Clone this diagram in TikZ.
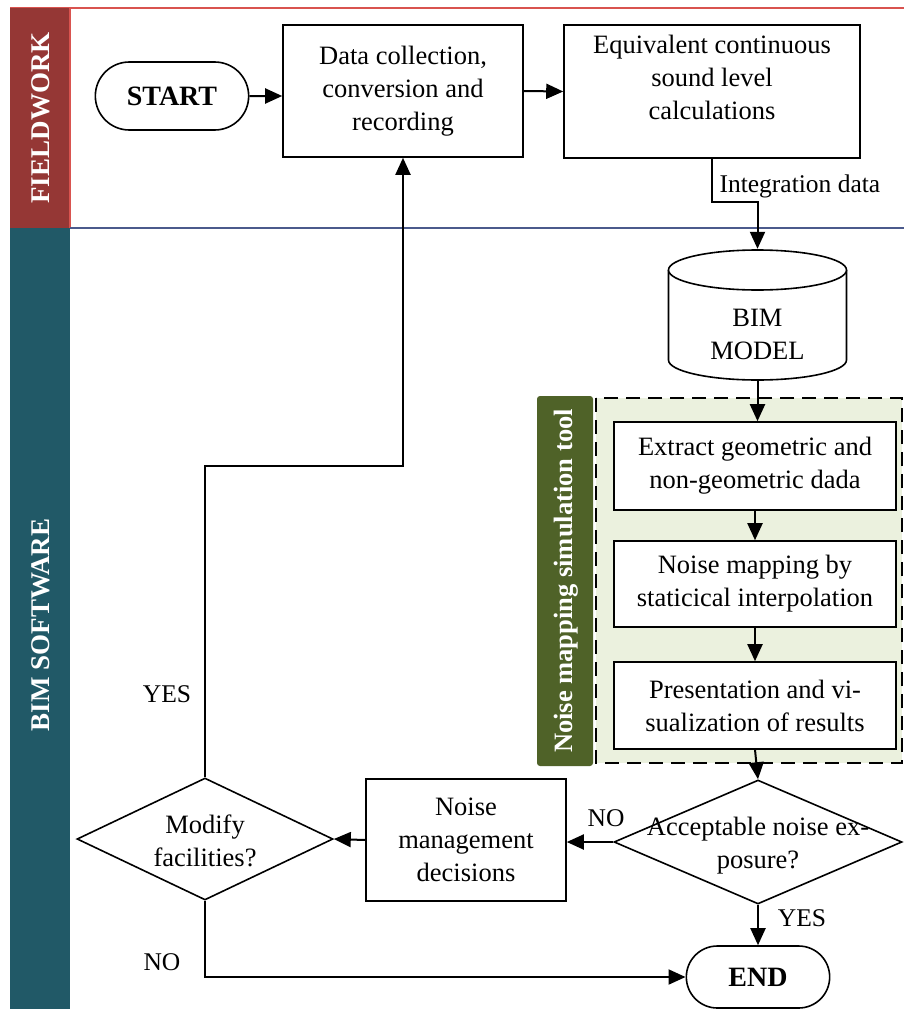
\documentclass[tikz,border=0pt]{standalone}
\usepackage{fontspec}
\setmainfont{Liberation Serif}
\usetikzlibrary{arrows.meta,shapes.geometric,shapes.misc}
\definecolor{fieldred}{HTML}{953735}
\definecolor{fieldline}{HTML}{D9534F}
\definecolor{bimteal}{HTML}{215967}
\definecolor{sepblue}{HTML}{4B5A8C}
\definecolor{toolgreen}{HTML}{4F6228}
\definecolor{toolfill}{HTML}{EBF1DE}
\begin{document}
\begin{tikzpicture}[x=1pt,y=-1pt,
  txt/.style={font=\fontsize{26.5}{33}\selectfont, align=center},
  procbox/.style={draw, line width=1.6pt, fill=white, txt},
  term/.style={draw, line width=1.6pt, rounded rectangle, fill=white, font=\fontsize{28}{30}\selectfont\bfseries},
  dec/.style={draw, line width=1.6pt, diamond, aspect=2, inner sep=0pt},
  conn/.style={line width=2pt, -{Triangle[length=17pt,width=15pt]}},
  lab/.style={font=\fontsize{25.5}{28}\selectfont},
  lanetxt/.style={font=\fontsize{27}{30}\selectfont\bfseries, text=white, rotate=90}
]
\useasboundingbox (0,0) rectangle (904,1009);
% lanes
\fill[white] (0,0) rectangle (904,1009);
\draw[fieldline, line width=1.4pt] (10,8) -- (904,8);
\fill[fieldred] (10,8) rectangle (70,228);
\draw[fieldline, line width=1.4pt] (70,8) -- (70,228);
\fill[bimteal] (10,228) rectangle (70,1009);
\draw[sepblue, line width=1.4pt] (70,228) -- (904,228);
\node[lanetxt] (fw) at (41,118) {FIELDWORK};
\node[lanetxt] (bs) at (41,625) {BIM SOFTWARE};

% tool container
\draw[line width=2pt, dash pattern=on 14pt off 8pt, fill=toolfill] (596,398) rectangle (902,763);
\fill[toolgreen, rounded corners=3pt] (537,396) rectangle (593,766);
\node[font=\fontsize{26.5}{30}\selectfont\bfseries, text=white, rotate=90] (tool) at (566,581) {Noise mapping simulation tool};

% nodes
\node[term, minimum width=160pt, minimum height=68pt] (start) at (172,96) {START};
\node[procbox, minimum width=240pt, minimum height=132pt] (data) at (403,91) {Data collection,\\conversion and\\recording};
\node[procbox, minimum width=296pt, minimum height=133pt] (equiv) at (712,91.5) {Equivalent continuous\\sound level\\calculations\\[-4pt]};

% cylinder
\draw[line width=1.6pt, fill=white] (668.5,270) -- (668.5,360) arc[start angle=180, end angle=0, x radius=89, y radius=20] -- (846.5,270);
\draw[line width=1.6pt, fill=white] (757.5,270) ellipse[x radius=89, y radius=20];
\node[minimum width=178pt, minimum height=131pt, inner sep=0pt] (bim) at (757.5,314.5) {};
\node[txt] (bimtxt) at (757.5,334) {BIM\\MODEL};

\node[procbox, minimum width=282pt, minimum height=88pt] (extract) at (755,466) {Extract geometric and\\non-geometric dada};
\node[procbox, minimum width=282pt, minimum height=86pt] (mapping) at (755,584) {Noise mapping by\\staticical interpolation};
\node[procbox, minimum width=282pt, minimum height=87pt] (present) at (755,705.5) {Presentation and vi-\\sualization of results};

\node[dec, minimum width=288pt, minimum height=124pt, fill=white] (accept) at (758,842) {};
\node[txt] (accepttxt) at (758,846) {Acceptable noise ex-\\posure?};
\node[procbox, minimum width=200pt, minimum height=122pt] (mgmt) at (466,840) {Noise\\management\\decisions};
\node[dec, minimum width=256pt, minimum height=122pt, fill=white] (modify) at (205,839) {};
\node[txt] (modifytxt) at (205,841) {Modify\\facilities?};
\node[term, minimum width=150pt, minimum height=62pt] (endn) at (758,977) {END};

% connectors
\draw[conn] (start) -- (data.west |- start);
\draw[conn] (data.east) -- (equiv.west);
\coordinate (j1) at (712,202);
\coordinate (j2) at (757.5,202);
\draw[conn] (equiv.south) -- (j1) -- (j2) -- (bim.north);
\node[lab, anchor=west] (intlab) at (716,186) {Integration data};
\draw[conn] (bim.south) -- (extract.north -| bim.south);
\draw[conn] (extract) -- (mapping);
\draw[conn] (mapping) -- (present);
\draw[conn] (present.south) -- (accept.north);
\draw[conn] (accept.west) -- (mgmt.east |- accept.west);
\node[lab] (nolab1) at (606,818) {NO};
\draw[conn] (mgmt.west) -- (modify.east);
\coordinate (y1) at (205,466);
\coordinate (y2) at (403,466);
\draw[conn] (modify.north) -- (y1) -- (y2) -- (data.south);
\node[lab] (yeslab1) at (167,694) {YES};
\coordinate (n1) at (205,977);
\draw[conn] (modify.south) -- (n1) -- (endn.west);
\node[lab] (nolab2) at (162,962) {NO};
\draw[conn] (accept.south) -- (endn.north);
\node[lab] (yeslab2) at (802,918) {YES};
\end{tikzpicture}
\end{document}
